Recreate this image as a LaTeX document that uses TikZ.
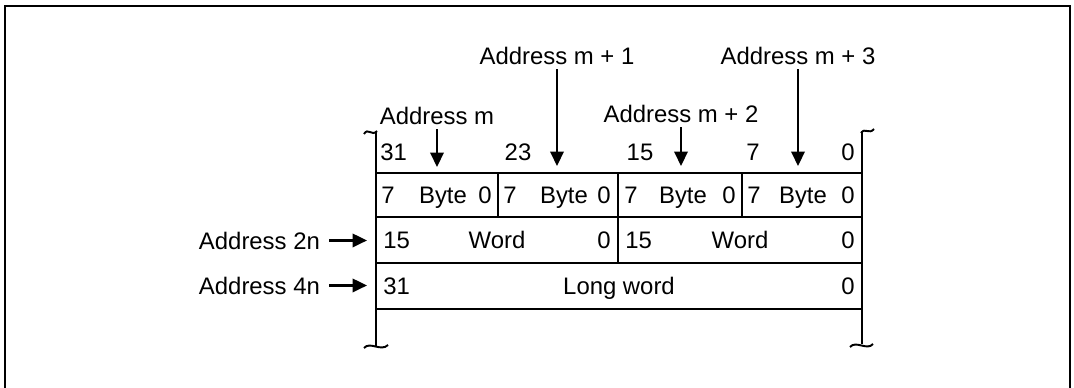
\documentclass[tikz,border=0pt]{standalone}
\usepackage{fontspec}
\setmainfont{Liberation Sans}
\tikzset{
    outerframe/.style={draw, line width=1pt},
    cellline/.style={draw, line width=1.2pt},
    brk/.style={line width=1.1pt},
    bits/.style={inner sep=0pt},
    addr/.style={inner sep=2pt},
    ptr/.style = {-{Triangle[length=0.29cm, width=0.27cm]}, line width=1.2pt} }
\usetikzlibrary{arrows.meta}

\begin{document}
\begin{tikzpicture}[x=0.02cm, y=-0.02cm, font=\fontsize{13.6}{16}\selectfont]
			\useasboundingbox (0,0) rectangle (1074,388);
			\draw[outerframe] (5,388) -- (5,6) -- (1070,6) -- (1070,388);
			% ---- memory cells
			\draw[cellline] (376,132) -- (376,346);
			\draw[cellline] (862,131) -- (862,344);
			\draw[cellline] (376,173) -- (862,173);
			\draw[cellline] (376,217) -- (862,217);
			\draw[cellline] (376,263) -- (862,263);
			\draw[cellline] (376,309) -- (862,309);
			\draw[cellline] (498,173) -- (498,217);
			\draw[cellline] (618,173) -- (618,263);
			\draw[cellline] (742,173) -- (742,217);
			\draw[brk] (364,134) .. controls (368,127) and (372,137) .. (377,131);
			\draw[brk] (861,133) .. controls (865,127) and (869,135) .. (874,129);
			\draw[brk] (364,348) .. controls (370,341) and (381,352) .. (388,345);
			\draw[brk] (850,347) .. controls (856,340) and (867,351) .. (873,344);
			% ---- bit numbers
			\node[bits, anchor=base west] (hi31) at (380,161) {31};
			\node[bits, anchor=base] (hi23) at (518,161) {23};
			\node[bits, anchor=base] (hi15) at (640,161) {15};
			\node[bits, anchor=base] (hi7) at (753,161) {7};
			\node[bits, anchor=base east] (hi0) at (855,161) {0};
			% ---- bytes
			\node[bits, anchor=base west] (byteAhi) at (381,203) {7};
			\node[bits, anchor=base] (byteA) at (443,203) {Byte};
			\node[bits, anchor=base east] (byteAlo) at (492,203) {0};
			\node[bits, anchor=base west] (byteBhi) at (503,203) {7};
			\node[bits, anchor=base] (byteB) at (564,203) {Byte};
			\node[bits, anchor=base east] (byteBlo) at (611,203) {0};
			\node[bits, anchor=base west] (byteChi) at (624,203) {7};
			\node[bits, anchor=base] (byteC) at (683,203) {Byte};
			\node[bits, anchor=base east] (byteClo) at (736,203) {0};
			\node[bits, anchor=base west] (byteDhi) at (747,203) {7};
			\node[bits, anchor=base] (byteD) at (803,203) {Byte};
			\node[bits, anchor=base east] (byteDlo) at (855,203) {0};
			% ---- words
			\node[bits, anchor=base west] (wordAhi) at (383,248) {15};
			\node[bits, anchor=base] (wordA) at (497,248) {Word};
			\node[bits, anchor=base east] (wordAlo) at (611,248) {0};
			\node[bits, anchor=base west] (wordBhi) at (625,248) {15};
			\node[bits, anchor=base] (wordB) at (740,248) {Word};
			\node[bits, anchor=base east] (wordBlo) at (855,248) {0};
			% ---- long word
			\node[bits, anchor=base west] (longhi) at (383,294) {31};
			\node[bits, anchor=base] (long) at (619,294) {Long word};
			\node[bits, anchor=base east] (longlo) at (855,294) {0};
			% ---- addresses
			\node[addr, anchor=base] (adm) at (437,125) {Address m};
			\node[addr, anchor=base] (admA) at (557,65) {Address m + 1};
			\node[addr, anchor=base] (admB) at (681,123) {Address m + 2};
			\node[addr, anchor=base] (admC) at (798,65) {Address m + 3};
			\node[addr, anchor=base east, inner xsep=5pt] (adtwo) at (329,249) {Address 2n};
			\node[addr, anchor=base east, inner xsep=5pt] (adfour) at (329,294) {Address 4n};
			\coordinate (tipm) at (437,167);
			\coordinate (tipmA) at (557,166);
			\coordinate (tipmB) at (681,166);
			\coordinate (tipmC) at (798,166);
			\coordinate (tiptwo) at (367,240);
			\coordinate (tipfour) at (367,286);
			% ----
			\draw[ptr] (adm) -- (tipm);
			\draw[ptr] (admA) -- (tipmA);
			\draw[ptr] (admB) -- (tipmB);
			\draw[ptr] (admC) -- (tipmC);
			\draw[ptr] (adtwo) -- (adtwo -| tiptwo);
			\draw[ptr] (adfour) -- (adfour -| tipfour);
		\end{tikzpicture}
\end{document}
